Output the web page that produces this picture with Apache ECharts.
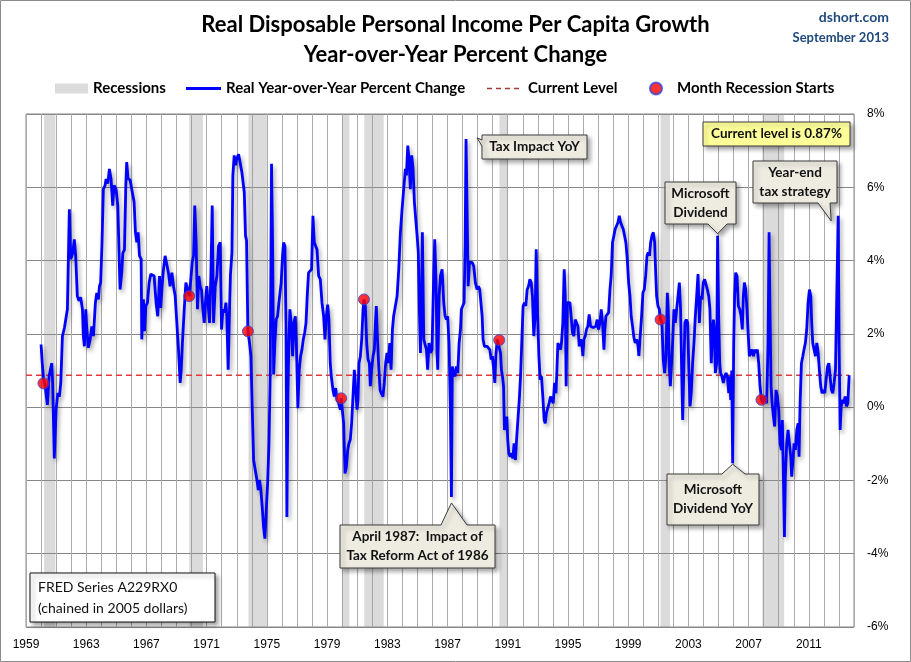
<!DOCTYPE html>
<html><head><meta charset="utf-8">
<script src="https://cdn.jsdelivr.net/npm/echarts@6/dist/echarts.min.js"></script>
<style>html,body{margin:0;padding:0;background:#fff}#c{width:911px;height:662px}</style>
</head><body><div id="c"></div>
<script>
// ---------------- DATA ----------------
const months = [
1960.00,1960.08,1960.17,1960.25,1960.42,1960.53,1960.71,1960.77,1960.88,1961.00,1961.11,1961.22,1961.31,1961.42,1961.55,1961.66,1961.75,1961.88,1961.97,
1962.10,1962.21,1962.30,1962.41,1962.52,1962.63,1962.75,1962.81,1962.88,1962.97,1963.03,1963.14,1963.26,1963.37,1963.48,1963.61,1963.70,1963.81,1963.88,1963.96,
1964.05,1964.14,1964.25,1964.32,1964.43,1964.54,1964.65,1964.76,1964.85,1964.98,1965.10,1965.21,1965.25,1965.36,1965.43,1965.54,1965.63,1965.69,1965.78,1965.92,
1966.00,1966.09,1966.18,1966.27,1966.36,1966.45,1966.54,1966.65,1966.69,1966.80,1966.87,1966.96,1967.07,1967.18,1967.29,1967.40,1967.51,1967.64,1967.75,1967.87,1967.95,
1968.04,1968.13,1968.24,1968.35,1968.46,1968.57,1968.69,1968.80,1968.91,1969.02,1969.13,1969.24,1969.31,1969.39,1969.51,1969.62,1969.73,1969.84,1969.95,
1970.04,1970.13,1970.21,1970.30,1970.39,1970.48,1970.57,1970.66,1970.75,1970.84,1970.92,1971.01,1971.10,1971.19,1971.28,1971.37,1971.46,1971.57,1971.68,1971.79,1971.90,1971.99,
1972.08,1972.19,1972.28,1972.34,1972.43,1972.52,1972.58,1972.68,1972.74,1972.83,1972.92,1973.01,1973.12,1973.23,1973.34,1973.41,1973.50,1973.58,1973.65,1973.74,1973.85,1973.94,
1974.03,1974.12,1974.23,1974.34,1974.43,1974.51,1974.60,1974.69,1974.78,1974.87,1974.96,1975.05,1975.14,1975.22,1975.31,1975.38,1975.45,1975.53,1975.62,1975.71,1975.80,1975.89,1975.95,
1976.04,1976.11,1976.20,1976.27,1976.33,1976.40,1976.46,1976.53,1976.62,1976.71,1976.80,1976.89,1976.97,1977.06,1977.15,1977.24,1977.33,1977.42,1977.51,1977.60,1977.68,1977.77,1977.88,1977.97,
1978.06,1978.15,1978.24,1978.33,1978.44,1978.55,1978.66,1978.77,1978.86,1978.95,1979.04,1979.12,1979.21,1979.28,1979.39,1979.48,1979.57,1979.66,1979.77,1979.88,1979.94,
1980.01,1980.10,1980.19,1980.28,1980.37,1980.45,1980.54,1980.63,1980.72,1980.81,1980.90,1980.99,1981.05,1981.12,1981.21,1981.30,1981.39,1981.45,1981.54,1981.63,1981.72,1981.81,1981.87,1981.96,
1982.05,1982.14,1982.21,1982.27,1982.34,1982.43,1982.52,1982.60,1982.71,1982.80,1982.89,1982.98,1983.07,1983.16,1983.25,1983.34,1983.42,1983.53,1983.65,1983.76,1983.87,1983.98,
1984.09,1984.20,1984.27,1984.36,1984.44,1984.53,1984.62,1984.71,1984.80,1984.89,1984.98,1985.06,1985.13,1985.20,1985.26,1985.33,1985.42,1985.51,1985.60,1985.68,1985.77,1985.86,1985.97,
1986.08,1986.15,1986.24,1986.30,1986.35,1986.44,1986.53,1986.64,1986.75,1986.84,1986.93,1987.01,1987.10,1987.19,1987.26,1987.32,1987.41,1987.50,1987.59,1987.68,1987.77,1987.86,1987.92,
1988.01,1988.10,1988.17,1988.23,1988.30,1988.37,1988.46,1988.54,1988.63,1988.74,1988.85,1988.96,1989.05,1989.14,1989.23,1989.30,1989.36,1989.45,1989.54,1989.63,1989.74,1989.81,1989.90,1989.98,
1990.07,1990.14,1990.21,1990.30,1990.43,1990.52,1990.58,1990.65,1990.72,1990.78,1990.87,1990.94,1991.00,1991.07,1991.16,1991.25,1991.34,1991.42,1991.51,1991.60,1991.69,1991.78,1991.85,1991.93,
1992.02,1992.11,1992.20,1992.29,1992.38,1992.47,1992.56,1992.64,1992.73,1992.82,1992.89,1992.98,1993.07,1993.15,1993.24,1993.33,1993.42,1993.49,1993.57,1993.66,1993.75,1993.84,1993.93,
1994.02,1994.11,1994.20,1994.26,1994.33,1994.42,1994.51,1994.57,1994.66,1994.75,1994.82,1994.88,1994.95,1995.04,1995.13,1995.21,1995.30,1995.39,1995.48,1995.57,1995.66,1995.75,1995.84,1995.92,1995.99,
1996.06,1996.15,1996.23,1996.32,1996.41,1996.50,1996.59,1996.68,1996.77,1996.85,1996.94,1997.03,1997.12,1997.21,1997.30,1997.39,1997.45,1997.52,1997.61,1997.70,1997.79,1997.87,1997.96,
1998.05,1998.14,1998.23,1998.32,1998.41,1998.50,1998.58,1998.67,1998.76,1998.85,1998.94,1999.03,1999.12,1999.20,1999.29,1999.38,1999.47,1999.56,1999.65,1999.71,1999.80,1999.89,1999.98,
2000.07,2000.16,2000.25,2000.33,2000.42,2000.49,2000.58,2000.67,2000.76,2000.82,2000.89,2000.98,2001.07,2001.15,2001.24,2001.33,2001.42,2001.51,2001.60,2001.66,2001.73,2001.80,2001.86,2001.95,
2002.04,2002.13,2002.22,2002.31,2002.40,2002.48,2002.55,2002.62,2002.71,2002.77,2002.86,2002.95,2003.02,2003.11,2003.19,2003.28,2003.37,2003.46,2003.55,2003.64,2003.73,2003.81,2003.90,2003.99,
2004.08,2004.17,2004.26,2004.35,2004.43,2004.52,2004.59,2004.66,2004.72,2004.79,2004.88,2004.94,2005.01,2005.08,2005.14,2005.23,2005.32,2005.41,2005.50,2005.59,2005.68,2005.74,2005.81,2005.88,2005.94,
2006.01,2006.07,2006.14,2006.23,2006.32,2006.41,2006.50,2006.58,2006.65,2006.72,2006.81,2006.89,2006.98,2007.05,2007.14,2007.23,2007.32,2007.40,2007.47,2007.58,2007.67,2007.76,2007.85,2007.94,
2008.02,2008.11,2008.20,2008.29,2008.36,2008.42,2008.49,2008.56,2008.65,2008.73,2008.82,2008.91,2009.00,2009.09,2009.18,2009.24,2009.31,2009.38,2009.44,2009.53,2009.62,2009.71,2009.80,2009.86,2009.93,
2010.02,2010.11,2010.20,2010.29,2010.35,2010.42,2010.51,2010.60,2010.68,2010.77,2010.86,2010.95,2011.04,2011.13,2011.19,2011.26,2011.35,2011.44,2011.53,2011.62,2011.70,2011.79,2011.88,2011.97,
2012.06,2012.15,2012.24,2012.33,2012.41,2012.50,2012.59,2012.68,2012.77,2012.95,2013.01,2013.08,2013.15,2013.23,2013.32,2013.41,2013.50,2013.59,2013.68
];
const yoy = [
1.71,1.2,0.75,0.65,0.06,0.84,1.2,0.66,-1.4,-0.07,0.38,0.29,0.66,1.94,2.16,2.16,2.67,5.4,4.04,
4.2,4.58,4.13,3.03,2.9,3.0,2.67,1.94,1.66,2.67,2.2,1.62,1.85,2.2,1.94,2.85,3.12,2.94,3.3,3.4,
4.5,5.95,6.05,6.23,6.1,6.5,6.23,5.5,6.05,5.95,5.5,3.76,3.21,3.67,4.2,4.3,6.05,6.69,6.23,6.2,
6.0,5.95,5.6,4.77,4.5,4.77,4.13,4.04,1.85,2.94,2.07,2.76,2.85,3.4,3.63,3.63,3.58,2.85,2.48,3.58,2.71,
3.3,3.76,4.13,4.17,3.67,3.3,3.67,3.3,3.03,2.3,1.57,0.66,1.02,1.75,2.67,3.4,3.4,3.03,3.49,
3.95,4.13,5.5,4.5,2.67,3.58,3.3,3.2,2.67,2.3,2.85,3.3,3.3,2.3,3.58,5.5,2.3,3.3,3.58,4.4,4.5,2.12,
2.67,2.58,2.85,2.48,1.02,2.67,3.6,4.22,6.32,6.87,6.6,6.8,6.9,6.91,6.41,6.41,5.86,4.68,4.55,2.07,1.75,1.39,
-0.07,-1.44,-1.72,-1.99,-2.26,-1.99,-2.26,-2.72,-3.27,-3.59,-2.81,-2.08,-0.99,0.84,6.64,4.49,0.89,1.75,2.39,2.48,2.85,2.9,3.4,
4.13,4.49,4.4,2.3,-3.0,0.38,1.75,2.67,2.3,1.39,2.3,2.48,1.57,-0.03,1.02,1.39,1.57,1.85,2.03,2.3,3.03,3.67,3.67,3.76,
5.22,4.49,4.49,4.3,3.58,3.49,2.85,2.48,1.85,2.48,2.8,2.39,1.2,0.84,0.47,0.29,0.52,0.2,0.11,-0.07,0.24,
-0.07,-0.44,-1.81,-1.63,-1.17,-0.99,-0.89,-0.44,0.29,1.02,1.02,-0.07,0.2,1.2,1.39,1.85,2.67,2.94,2.76,1.75,1.3,1.2,0.57,1.02,
1.39,1.57,2.3,2.76,1.94,1.11,0.47,0.38,0.29,0.66,1.2,1.48,1.2,1.75,1.02,2.12,2.48,2.48,3.03,3.76,4.77,5.4,
5.95,6.5,6.32,7.14,6.78,5.95,6.87,6.5,5.59,5.13,4.68,4.22,2.67,1.48,2.67,4.77,1.85,1.85,1.57,1.02,1.75,1.48,1.57,
3.58,4.58,3.4,1.5,1.02,3.03,3.58,3.76,2.85,2.48,2.39,2.48,1.75,-0.07,-2.45,1.11,0.93,0.84,1.11,0.93,1.75,2.12,2.67,
2.67,2.85,4.49,7.32,5.4,3.3,3.95,3.95,3.95,3.85,3.4,3.21,3.3,3.21,3.21,2.48,1.85,1.66,1.62,1.66,1.66,1.57,1.3,1.39,
1.02,0.66,1.39,1.85,1.83,1.48,1.02,0.84,0.57,-0.62,-0.44,-0.26,-0.89,-1.26,-1.35,-1.26,-1.4,-0.99,-1.44,-0.8,-0.26,0.29,0.84,1.75,
2.76,2.85,2.76,3.21,3.3,3.49,3.4,3.03,1.94,2.48,4.31,2.6,1.39,0.75,0.84,0.29,-0.35,-0.44,-0.16,-0.12,0.11,0.29,0.2,
0.11,0.66,0.38,0.93,1.75,1.75,1.57,1.75,2.3,3.76,3.03,0.57,2.85,2.85,2.85,2.48,2.03,1.94,2.39,2.3,2.21,1.66,1.85,1.75,1.39,
1.85,1.94,2.12,2.21,2.53,2.21,2.21,2.17,2.12,2.21,2.39,2.12,2.3,2.67,2.3,1.57,2.12,2.48,2.48,2.58,3.21,3.58,4.49,
4.68,4.86,4.95,5.04,5.22,5.04,4.95,4.86,4.68,4.49,4.04,3.4,3.03,2.48,2.21,1.9,1.75,1.85,1.7,1.4,1.94,2.48,3.12,
3.21,3.58,4.13,4.22,4.13,4.49,4.68,4.77,4.49,3.76,3.03,2.76,2.67,2.39,2.3,1.3,0.93,1.39,3.12,2.67,1.11,0.57,1.02,1.75,
2.67,2.3,2.67,3.03,3.4,2.67,1.02,-0.35,1.3,2.3,2.39,2.3,1.2,0.02,0.38,1.2,1.75,2.48,3.03,3.63,2.3,3.03,2.94,3.4,
3.49,3.49,3.21,3.03,2.67,1.2,1.94,2.39,2.12,0.93,1.2,4.68,2.48,1.2,0.93,0.84,0.66,0.84,0.93,0.84,0.38,0.84,0.2,1.0,-1.53,
1.75,3.03,3.67,3.58,2.76,2.67,2.48,2.12,3.03,3.4,3.21,2.67,1.94,1.39,1.39,1.57,1.39,1.57,1.48,1.57,1.2,0.57,0.2,0.11,
0.29,0.2,0.11,1.75,4.77,2.67,0.57,0.11,-0.26,-0.53,0.47,0.29,-0.07,-0.99,-1.17,-0.35,-1.9,-3.54,-1.9,-0.99,-0.62,-0.99,-1.35,-1.9,-1.53,
-0.99,-1.17,-0.62,-0.44,-1.35,0.11,1.2,1.39,1.57,1.75,2.12,2.85,3.21,3.03,2.3,1.75,1.57,1.39,1.75,1.48,1.02,0.57,0.38,0.47,
0.38,0.75,1.11,1.2,0.84,0.47,0.38,0.66,1.02,5.22,1.75,-0.62,0.02,0.2,0.11,0.29,0.02,0.11,0.87
];
const recessions = [[1960.20,1960.95],[1969.84,1970.75],[1973.78,1975.00],[1980.00,1980.48],[1981.47,1982.76],[1990.45,1991.00],[2001.15,2001.78],[2007.91,2009.36]];
const recessionStartDates = [1960.16,1969.84,1973.74,1979.94,1981.45,1990.43,2001.15,2007.85];
const recessionStartValues = [0.65,3.03,2.07,0.24,2.94,1.83,2.39,0.2];
const currentLevel = 0.87;
const xMin = 1959, xMax = 2014, xLabelEvery = 4;
const yMin = -6, yMax = 8, yStep = 2;

// ---------------- CHART ----------------
const FONT = 'Lato, "Noto Sans", sans-serif';
const chart = echarts.init(document.getElementById('c'));
const lineData = months.map((m, i) => [m, yoy[i]]);
const dots = recessionStartDates.map((d, i) => [d, recessionStartValues[i]]);
const lastX = months[months.length - 1];

const legendText = {fontFamily: FONT, fontWeight: 'bold', fontSize: 15, color: '#000'};

chart.setOption({
  animation: false,
  backgroundColor: '#fff',
  title: [
    {text: 'Real Disposable Personal Income Per Capita Growth', left: 'center', top: 14, padding: 0,
     textStyle: {fontFamily: FONT, fontWeight: 'bold', fontSize: 22, color: '#000'}},
    {text: 'Year-over-Year Percent Change', left: 'center', top: 44, padding: 0,
     textStyle: {fontFamily: FONT, fontWeight: 'bold', fontSize: 22, color: '#000'}},
    {text: 'dshort.com', right: 22, top: 10, padding: 0,
     textStyle: {fontFamily: FONT, fontWeight: 'bold', fontSize: 14, color: '#1F497D'}},
    {text: 'September 2013', right: 22, top: 31, padding: 0,
     textStyle: {fontFamily: FONT, fontWeight: 'bold', fontSize: 13, color: '#1F497D'}}
  ],
  legend: [
    {data: [{name: 'Recessions', icon: 'rect', itemStyle: {color: '#DCDCDC'}}], left: 55, top: 81, padding: 0,
     itemWidth: 33, itemHeight: 10, selectedMode: false, textStyle: legendText},
    {data: [{name: 'Real Year-over-Year Percent Change', icon: 'path://M0,0H35V3H0Z', itemStyle: {color: '#0000FF'}}], left: 186, top: 81, padding: 0,
     itemWidth: 35, itemHeight: 3, selectedMode: false, textStyle: legendText},
    {data: [{name: 'Current Level', icon: 'path://M0,0H5V1.5H0Z M9,0H14V1.5H9Z M18,0H23V1.5H18Z M27,0H32V1.5H27Z', itemStyle: {color: '#A23A32'}}], left: 487, top: 81, padding: 0,
     itemWidth: 32, itemHeight: 1.5, selectedMode: false, textStyle: Object.assign({}, legendText, {padding: [0, 0, 0, 4]})},
    {data: [{name: 'Month Recession Starts', icon: 'circle'}], left: 649, top: 81, padding: 0,
     itemWidth: 12, itemHeight: 12, selectedMode: false, textStyle: Object.assign({}, legendText, {padding: [0, 0, 0, 10]})}
  ],
  grid: {left: 26, right: 57, top: 114, bottom: 35, show: true, borderColor: '#868686', borderWidth: 1, containLabel: false},
  xAxis: {
    type: 'value', min: xMin, max: xMax, interval: 1,
    axisLine: {show: false}, axisTick: {show: false},
    splitLine: {show: true, lineStyle: {color: '#ABABAB', width: 1}},
    axisLabel: {margin: 12, fontFamily: '"Liberation Sans", Arial, sans-serif', fontSize: 12, color: '#000',
      formatter: v => ((v - xMin) % xLabelEvery === 0 && v < xMax) ? String(v) : ''}
  },
  yAxis: {
    type: 'value', position: 'right', min: yMin, max: yMax, interval: yStep,
    axisLine: {show: false}, axisTick: {show: false},
    splitLine: {show: true, lineStyle: {color: '#868686', width: 1}},
    axisLabel: {margin: 13, fontFamily: '"Liberation Sans", Arial, sans-serif', fontSize: 12, color: '#000', formatter: '{value}%'}
  },
  series: [
    {name: 'Recessions', type: 'line', data: [], color: '#DCDCDC', silent: true,
     markArea: {silent: true, itemStyle: {color: 'rgba(150,150,150,0.34)'},
       data: recessions.map(r => [{xAxis: r[0]}, {xAxis: r[1]}])}},
    {name: 'Current Level', type: 'line', data: [[xMin, currentLevel], [lastX, currentLevel]], symbol: 'none',
     color: '#E03A3A', lineStyle: {color: '#E03A3A', type: [6, 4], width: 1.3}, z: 3, silent: true},
    {name: 'Real Year-over-Year Percent Change', type: 'line', data: lineData, symbol: 'none', showSymbol: false,
     color: '#0000FF',
     lineStyle: {color: '#0000FF', width: 2.8, shadowColor: 'rgba(0,0,0,0.35)', shadowBlur: 4, shadowOffsetX: 2, shadowOffsetY: 3},
     z: 4},
    {name: 'Month Recession Starts', type: 'scatter', data: dots, symbol: 'circle', symbolSize: 11,
     itemStyle: {color: '#FF0000', borderColor: '#3344DD', borderWidth: 1}, z: 5}
  ]
});

// ---------------- ANNOTATIONS ----------------
const callouts = [
  {lines: ['Tax Impact YoY'], box: [482, 135, 105, 24], notch: 'left', base: [140, 146], anchor: [1988.23, 7.32], tipOff: [11, -1]},
  {lines: ['April 1987:  Impact of', 'Tax Reform Act of 1986'], box: [340, 525, 155, 43], notch: 'top', base: [441, 467], anchor: [1987.26, -2.45], tipOff: [0, 6]},
  {lines: ['Microsoft', 'Dividend'], box: [665, 182, 71, 42], notch: 'bottom', base: [708, 727], anchor: [2004.94, 4.68], tipOff: [0, -2]},
  {lines: ['Microsoft', 'Dividend YoY'], box: [667, 474, 92, 51], notch: 'top', base: [722, 745], anchor: [2005.94, -1.53], tipOff: [0, 1]},
  {lines: ['Year-end', 'tax strategy'], box: [753, 161, 84, 42], notch: 'bottom', base: [818, 830], anchor: [2012.95, 5.22], tipOff: [-7, 5]}
];
const graphics = [];
callouts.forEach(c => {
  const [x, y, w, h] = c.box;
  const a = chart.convertToPixel({gridIndex: 0}, c.anchor);
  const t = [a[0] + c.tipOff[0], a[1] + c.tipOff[1]];
  let pts;
  if (c.notch === 'top') pts = [[x, y], [c.base[0], y], t, [c.base[1], y], [x + w, y], [x + w, y + h], [x, y + h]];
  else if (c.notch === 'bottom') pts = [[x, y], [x + w, y], [x + w, y + h], [c.base[1], y + h], t, [c.base[0], y + h], [x, y + h]];
  else pts = [[x, y], [x + w, y], [x + w, y + h], [x, y + h], [x, c.base[1]], t, [x, c.base[0]]];
  graphics.push({type: 'polygon', z: 100, shape: {points: pts},
    style: {fill: '#EEECE1', stroke: '#3A3A3A', lineWidth: 1, shadowColor: 'rgba(0,0,0,0.35)', shadowBlur: 4, shadowOffsetX: 3, shadowOffsetY: 3}});
  graphics.push({type: 'text', z: 101, x: x + w / 2, y: y + h / 2,
    style: {text: c.lines.join('\n'), font: 'bold 13.5px ' + FONT, fill: '#111', align: 'center', verticalAlign: 'middle', lineHeight: 19}});
});
// current level box
graphics.push({type: 'rect', z: 100, shape: {x: 703, y: 122, width: 147, height: 24},
  style: {fill: '#FFFF99', stroke: '#3A3A3A', lineWidth: 1, shadowColor: 'rgba(0,0,0,0.35)', shadowBlur: 4, shadowOffsetX: 3, shadowOffsetY: 3}});
graphics.push({type: 'text', z: 101, x: 776.5, y: 134,
  style: {text: 'Current level is ' + currentLevel.toFixed(2) + '%', font: 'bold 13.5px ' + FONT, fill: '#111', align: 'center', verticalAlign: 'middle'}});
// FRED source box
graphics.push({type: 'rect', z: 100, shape: {x: 30, y: 573, width: 185, height: 49},
  style: {fill: '#FFFFFF', stroke: '#111', lineWidth: 1, shadowColor: 'rgba(0,0,0,0.35)', shadowBlur: 4, shadowOffsetX: 3, shadowOffsetY: 3}});
graphics.push({type: 'text', z: 101, x: 38, y: 597.5,
  style: {text: 'FRED Series A229RX0\n(chained in 2005 dollars)', font: '14px ' + FONT, fill: '#111', align: 'left', verticalAlign: 'middle', lineHeight: 21}});
// outer frame
graphics.push({type: 'rect', z: 0, silent: true, shape: {x: 0.5, y: 0.5, width: 910, height: 661},
  style: {fill: 'none', stroke: '#8C8C8C', lineWidth: 1}});
chart.setOption({graphic: graphics});
</script>
</body></html>
